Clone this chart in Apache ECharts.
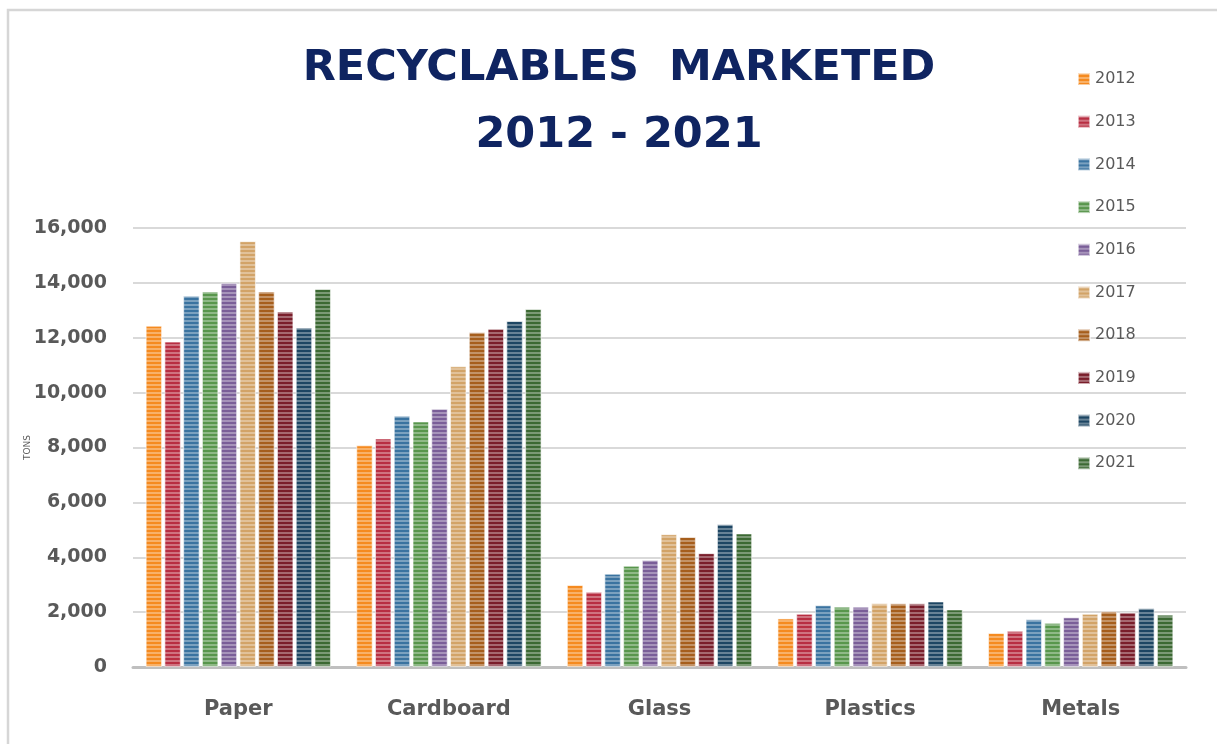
<!DOCTYPE html>
<html>
<head>
<meta charset="utf-8">
<script src="https://cdn.jsdelivr.net/npm/echarts@6/dist/echarts.min.js"></script>
<style>
html,body{margin:0;padding:0;background:#fff;}
#chart{width:1217px;height:744px;}
</style>
</head>
<body>
<div id="chart"></div>
<script>
const categories = ['Paper', 'Cardboard', 'Glass', 'Plastics', 'Metals'];
const years = ['2012', '2013', '2014', '2015', '2016', '2017', '2018', '2019', '2020', '2021'];
const yTicks = [0, 2000, 4000, 6000, 8000, 10000, 12000, 14000, 16000];

const v2012 = [12440, 8080, 2990, 1770, 1240];
const v2013 = [11860, 8330, 2740, 1940, 1320];
const v2014 = [13530, 9160, 3400, 2250, 1740];
const v2015 = [13690, 8950, 3690, 2200, 1610];
const v2016 = [14000, 9410, 3900, 2200, 1810];
const v2017 = [15520, 10960, 4840, 2320, 1940];
const v2018 = [13690, 12200, 4740, 2320, 2030];
const v2019 = [12960, 12330, 4150, 2320, 1990];
const v2020 = [12370, 12610, 5200, 2390, 2140];
const v2021 = [13780, 13050, 4870, 2100, 1910];

const seriesValues = [v2012, v2013, v2014, v2015, v2016, v2017, v2018, v2019, v2020, v2021];
const colors = ['#F58A1F', '#B82E42', '#3A73A0', '#58964C', '#7A5E98', '#D2A367', '#A65E1C', '#7A1E2B', '#1D4663', '#3C6933'];

const chart = echarts.init(document.getElementById('chart'));

const series = years.map((y, i) => ({
  name: y,
  type: 'bar',
  data: seriesValues[i],
  barCategoryGap: '12%',
  barGap: '14%',
  itemStyle: {
    color: colors[i],
    borderColor: 'rgba(255,255,255,0.35)',
    borderWidth: 1,
    decal: {
      symbol: 'rect',
      symbolSize: 1,
      dashArrayX: [1, 0],
      dashArrayY: [2, 2],
      rotation: 0,
      color: 'rgba(255,255,255,0.33)'
    }
  }
}));

chart.setOption({
  animation: false,
  color: colors,
  title: {
    text: 'RECYCLABLES  MARKETED\n2012 - 2021',
    left: 614,
    textAlign: 'center',
    top: 30,
    textStyle: {
      fontFamily: 'DejaVu Sans',
      fontWeight: 'bold',
      fontSize: 43,
      lineHeight: 67,
      color: '#0F2461'
    }
  },
  legend: {
    orient: 'vertical',
    left: 1072,
    top: 66,
    itemWidth: 12,
    itemHeight: 12,
    itemGap: 26.7,
    icon: 'rect',
    textStyle: {
      fontFamily: 'DejaVu Sans',
      fontSize: 16,
      color: '#595959'
    },
    data: years
  },
  grid: {
    left: 133,
    right: 31,
    top: 228,
    bottom: 77,
    containLabel: false
  },
  xAxis: {
    type: 'category',
    data: categories,
    axisTick: { show: false },
    axisLine: { lineStyle: { color: '#BFBFBF', width: 3 } },
    axisLabel: {
      margin: 32,
      fontFamily: 'DejaVu Sans',
      fontWeight: 'bold',
      fontSize: 21,
      color: '#595959'
    }
  },
  yAxis: {
    type: 'value',
    min: yTicks[0],
    max: yTicks[yTicks.length - 1],
    interval: 2000,
    name: 'TONS',
    nameLocation: 'middle',
    nameGap: 101,
    nameMoveOverlap: false,
    nameTextStyle: { fontFamily: 'DejaVu Sans', fontSize: 9, color: '#595959' },
    axisLine: { show: false },
    axisTick: { show: false },
    splitLine: { lineStyle: { color: '#D9D9D9', width: 2 } },
    axisLabel: {
      margin: 26,
      fontFamily: 'DejaVu Sans',
      fontWeight: 'bold',
      fontSize: 19,
      color: '#595959',
      formatter: v => v.toLocaleString('en-US')
    }
  },
  graphic: [{
    type: 'rect',
    shape: { x: 8, y: 10, width: 1400, height: 900 },
    style: { fill: 'none', stroke: '#D6D6D6', lineWidth: 2.5 },
    silent: true,
    z: -1
  }],
  series: series
});
</script>
</body>
</html>
